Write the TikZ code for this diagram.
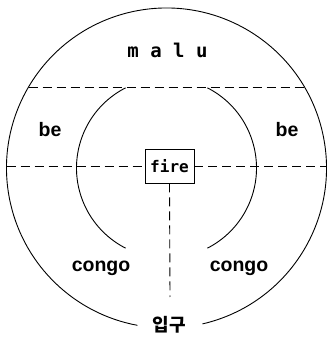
\documentclass[tikz,border=0pt]{standalone}
\usepackage{fontspec}
\setmainfont{Liberation Sans}
\newfontfamily\monofont{DejaVu Sans Mono}
\newfontfamily\korfont{Noto Sans CJK KR}
\usetikzlibrary{positioning}

\begin{document}
\begin{tikzpicture}[
    x=1pt, y=1pt,
    wall/.style={line width=0.9pt},
    split/.style={line width=0.9pt, dash pattern=on 9pt off 5pt},
    zone/.style={font=\fontsize{19.5}{19.5}\selectfont\bfseries, inner sep=0pt},
    hearth/.style={draw, line width=0.9pt, minimum width=49pt, minimum height=34pt,
                   inner sep=0pt, font=\fontsize{16}{16}\selectfont\monofont\bfseries}
]
    \useasboundingbox (0,0) rectangle (329,340);
    \coordinate (c) at (166.5,172);

    % outer wall, open at the entrance
    \draw[wall] (c) ++(-77:160) arc (-77:259.5:160);

    % inner walls
    \draw[wall] (c) ++(117:90) arc (117:243:90);
    \draw[wall] (c) ++(63:90) arc (63:-63:90);

    % fire box and dividing lines
    \node[hearth] (fire) at (169.5,174) {fire};
    \coordinate (west) at (6.5,174);
    \coordinate (east) at (326.5,174);
    \coordinate (chordw) at (28.5,253);
    \coordinate (chorde) at (304.5,253);
    \coordinate (door) at (170,43);
    \draw[split] (chordw) -- (chorde);
    \draw[split] (west) -- (fire.west);
    \draw[split] (fire.east) -- (east);
    \draw[split] (fire.south) -- (door);

    % zone names
    \node[zone, font=\fontsize{19}{19}\selectfont\monofont\bfseries] (malu) at (167.5,290) {m a l u};
    \node[zone] (bew) at (50,210) {be};
    \node[zone] (bee) at (287,210) {be};
    \node[zone] (congow) at (101,72) {congo};
    \node[zone] (congoe) at (239,72) {congo};
    \node[zone, font=\fontsize{18}{18}\selectfont\korfont\bfseries] (gate) at (169,15) {입구};
\end{tikzpicture}
\end{document}
